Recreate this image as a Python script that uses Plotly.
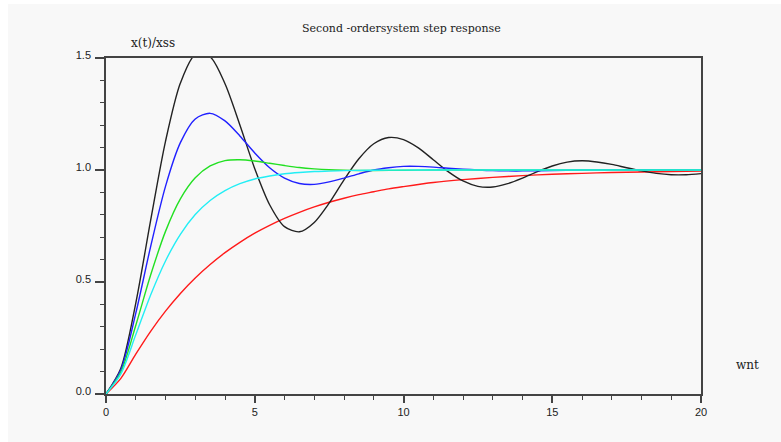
import plotly.graph_objects as go

# time axis (wn*t) samples
t_half = [i * 0.5 for i in range(41)]  # 0..20 step 0.5

# zeta = 0.2 (black)
black_t = t_half
black_y = [0.000, 0.115, 0.405, 0.775, 1.128, 1.388, 1.515, 1.505, 1.385, 1.201,
           1.006, 0.845, 0.747, 0.724, 0.766, 0.852, 0.956, 1.050, 1.117, 1.145,
           1.136, 1.099, 1.046, 0.993, 0.951, 0.927, 0.924, 0.939, 0.964, 0.993,
           1.018, 1.035, 1.041, 1.036, 1.025, 1.010, 0.996, 0.985, 0.979, 0.979,
           0.984]

# zeta = 0.4 (blue)
blue_t = [i * 0.5 for i in range(29)] + [15, 16, 17, 18, 19, 20]
blue_y = [0.000, 0.108, 0.360, 0.658, 0.927, 1.122, 1.228, 1.253, 1.219, 1.152,
          1.076, 1.010, 0.964, 0.940, 0.936, 0.947, 0.964, 0.983, 1.000, 1.010,
          1.016, 1.016, 1.013, 1.008, 1.004, 1.000, 0.997, 0.996, 0.996,
          0.998, 1.000, 1.001, 1.001, 1.000, 1.000]

# zeta = 0.7 (green)
green_t = [i * 0.5 for i in range(19)] + [10, 11, 12, 14, 16, 18, 20]
green_y = [0.000, 0.098, 0.306, 0.531, 0.726, 0.871, 0.965, 1.018, 1.042, 1.046,
           1.040, 1.030, 1.020, 1.011, 1.005, 1.001, 0.999, 0.998, 0.998,
           0.999, 1.000, 1.000, 1.000, 1.000, 1.000, 1.000]

# zeta = 1.0 (cyan)
cyan_t = [i * 0.5 for i in range(17)] + [9, 10, 11, 12, 14, 16, 18, 20]
cyan_y = [0.000, 0.090, 0.264, 0.442, 0.594, 0.713, 0.801, 0.864, 0.908, 0.939,
          0.960, 0.973, 0.983, 0.989, 0.993, 0.995, 0.997,
          0.999, 0.9995, 0.9998, 0.9999, 1.000, 1.000, 1.000, 1.000]

# zeta = 2.0 (red)
red_t = [i * 0.5 for i in range(21)] + [11, 12, 13, 14, 15, 16, 17, 18, 19, 20]
red_y = [0.000, 0.070, 0.178, 0.280, 0.370, 0.449, 0.518, 0.578, 0.631, 0.677,
         0.718, 0.753, 0.784, 0.811, 0.835, 0.856, 0.874, 0.890, 0.903, 0.916,
         0.926, 0.944, 0.957, 0.967, 0.975, 0.981, 0.985, 0.989, 0.991, 0.993,
         0.995]

x_ticks = [0, 5, 10, 15, 20]
y_ticks = [0.0, 0.5, 1.0, 1.5]
y_tick_text = ["0.0", "0.5", "1.0", "1.5"]

series = [
    (red_t, red_y, "#ff1a1a"),
    (black_t, black_y, "#222222"),
    (blue_t, blue_y, "#2020ff"),
    (green_t, green_y, "#22e022"),
    (cyan_t, cyan_y, "#22eef5"),
]

fig = go.Figure()
for tx, ty, col in series:
    fig.add_trace(go.Scatter(x=tx, y=ty, mode="lines",
                             line=dict(color=col, width=1.4, shape="spline", smoothing=0.8),
                             showlegend=False, hoverinfo="skip"))

axcol = "#444444"
tickfont = dict(family="Liberation Sans, Arial, sans-serif", size=11, color="#222222")

fig.update_xaxes(range=[0, 20], showgrid=False, zeroline=False,
                 showline=True, linecolor=axcol, linewidth=1.5, mirror=True,
                 ticks="outside", tickvals=x_ticks, ticklen=7, tickwidth=1.5, tickcolor=axcol,
                 minor=dict(dtick=1, ticks="outside", ticklen=4, tickwidth=1.2, tickcolor=axcol),
                 tickfont=tickfont)
fig.update_yaxes(range=[0, 1.5], showgrid=False, zeroline=False,
                 showline=True, linecolor=axcol, linewidth=1.5, mirror=True,
                 ticks="outside", tickvals=y_ticks, ticktext=y_tick_text,
                 ticklen=9, tickwidth=1.5, tickcolor=axcol,
                 ticklabelshift=-3, ticklabelstandoff=2,
                 minor=dict(dtick=0.1, ticks="outside", ticklen=4, tickwidth=1.2, tickcolor=axcol),
                 tickfont=tickfont)

L, R, T, B = 106, 80, 58, 48
W, H = 781, 442
pw, ph = W - L - R, H - T - B

def px(x):
    return (x - L) / pw

def py(y):
    return (H - B - y) / ph

bg = "#f8f8f8"
fig.update_layout(
    width=W, height=H,
    margin=dict(l=L, r=R, t=T, b=B),
    paper_bgcolor=bg, plot_bgcolor=bg,
    shapes=[
        dict(type="rect", xref="paper", yref="paper", x0=px(-5), x1=px(W + 5), y0=py(4), y1=py(-5),
             fillcolor="white", line=dict(width=0), layer="below"),
        dict(type="rect", xref="paper", yref="paper", x0=px(-5), x1=px(8), y0=py(H + 5), y1=py(-5),
             fillcolor="white", line=dict(width=0), layer="below"),
    ],
    annotations=[
        dict(text="Second -ordersystem step response", x=px(401), y=py(28), xref="paper", yref="paper",
             showarrow=False, xanchor="center", yanchor="middle",
             font=dict(family="DejaVu Serif, serif", size=11, color="#222222")),
        dict(text="x(t)/xss", x=px(153), y=py(43), xref="paper", yref="paper",
             showarrow=False, xanchor="center", yanchor="middle",
             font=dict(family="DejaVu Serif, serif", size=12, color="#222222")),
        dict(text="wnt", x=px(747), y=py(365), xref="paper", yref="paper",
             showarrow=False, xanchor="center", yanchor="middle",
             font=dict(family="DejaVu Serif, serif", size=12, color="#222222")),
    ],
)

fig.write_html("out.html")
